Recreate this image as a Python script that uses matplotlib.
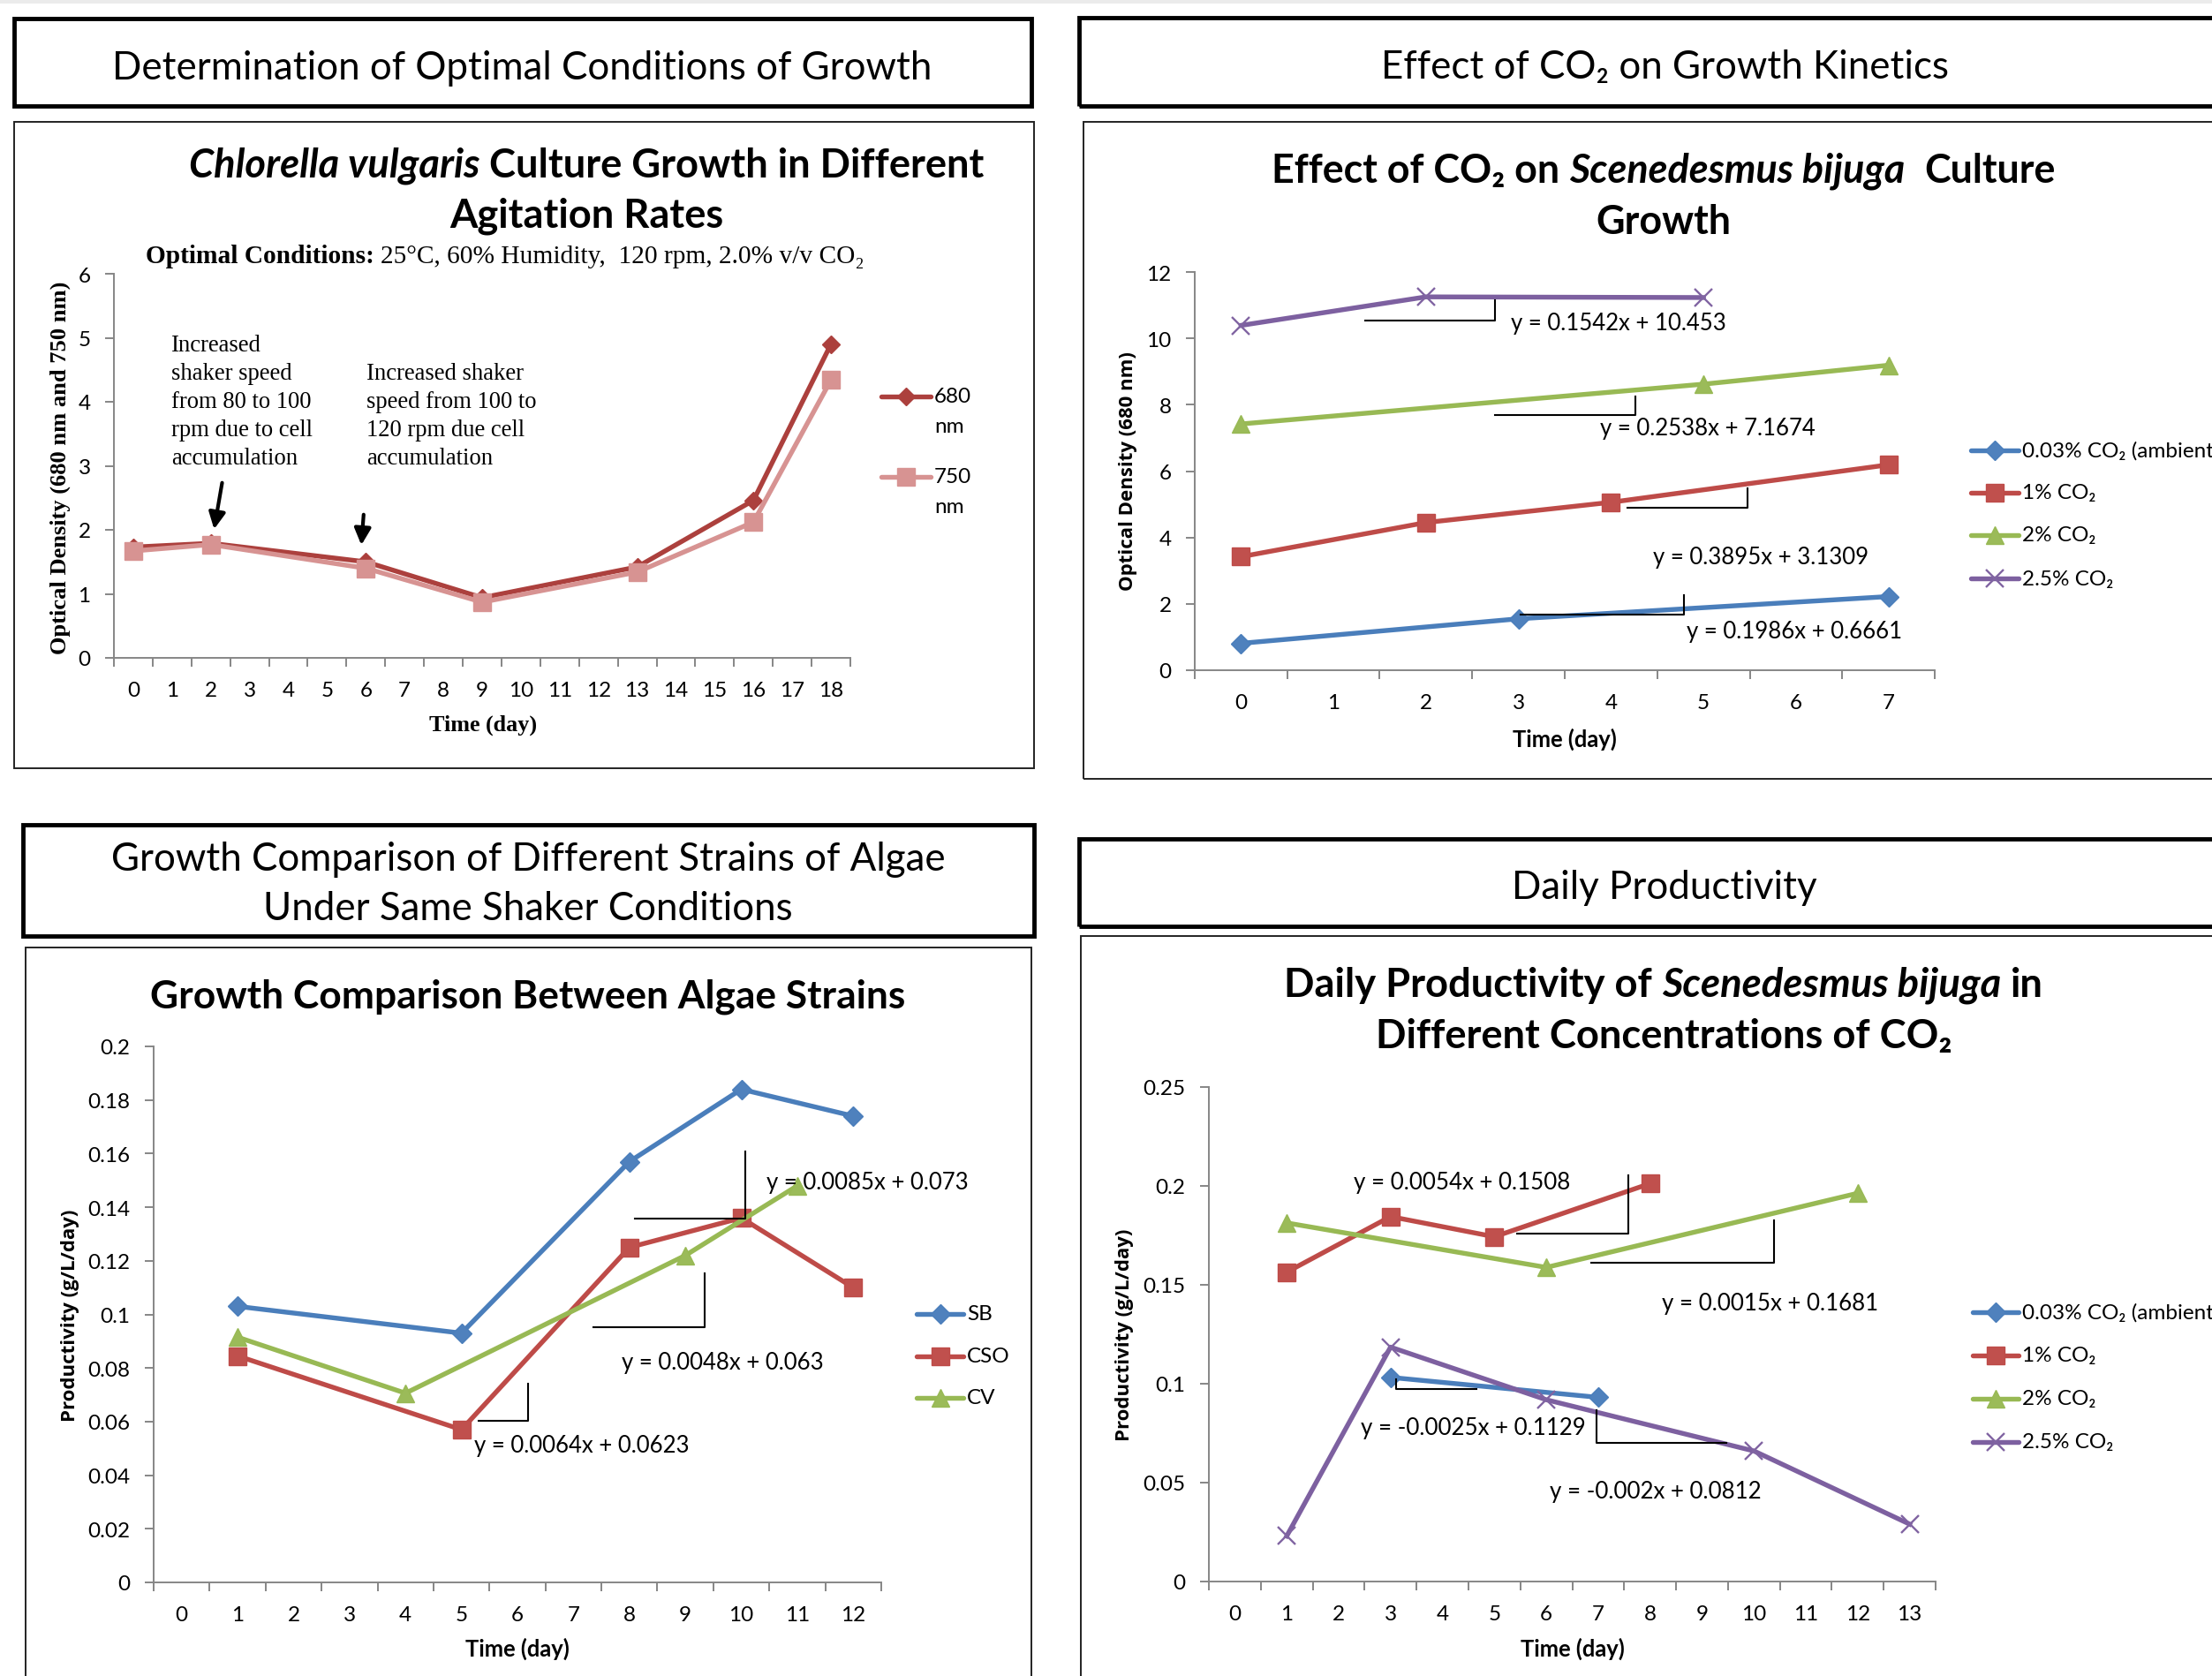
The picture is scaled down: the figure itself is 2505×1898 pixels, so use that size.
import matplotlib
matplotlib.use('Agg')
import matplotlib.pyplot as plt
from matplotlib.lines import Line2D
from matplotlib.patches import Rectangle, FancyArrowPatch
from matplotlib.ticker import FixedLocator

plt.rcParams['font.family'] = ['Lato', 'DejaVu Sans']

W, H = 2505, 1899

# ---------------- data ----------------
# Top-left: Chlorella vulgaris, agitation rates
tl_categories = ['0', '1', '2', '3', '4', '5', '6', '7', '8', '9', '10',
                 '11', '12', '13', '14', '15', '16', '17', '18']
tl_days = [0, 2, 6, 9, 13, 16, 18]
tl_od680 = [1.73, 1.79, 1.50, 0.94, 1.42, 2.46, 4.90]
tl_od750 = [1.67, 1.77, 1.40, 0.87, 1.34, 2.12, 4.34]
tl_yticks = [0, 1, 2, 3, 4, 5, 6]
tl_yticklabels = ['0', '1', '2', '3', '4', '5', '6']

# Top-right: effect of CO2 on S. bijuga growth
tr_categories = ['0', '1', '2', '3', '4', '5', '6', '7']
tr_amb_days = [0, 3, 7]
tr_amb = [0.81, 1.55, 2.22]
tr_1_days = [0, 2, 4, 7]
tr_1 = [3.42, 4.45, 5.06, 6.19]
tr_2_days = [0, 5, 7]
tr_2 = [7.42, 8.62, 9.19]
tr_25_days = [0, 2, 5]
tr_25 = [10.39, 11.25, 11.23]
tr_yticks = [0, 2, 4, 6, 8, 10, 12]
tr_yticklabels = ['0', '2', '4', '6', '8', '10', '12']
tr_equations = ['y = 0.1542x + 10.453', 'y = 0.2538x + 7.1674',
                'y = 0.3895x + 3.1309', 'y = 0.1986x + 0.6661']

# Bottom-left: growth comparison between strains
bl_categories = ['0', '1', '2', '3', '4', '5', '6', '7', '8', '9', '10', '11', '12']
bl_sb_days = [1, 5, 8, 10, 12]
bl_sb = [0.103, 0.093, 0.157, 0.184, 0.174]
bl_cso_days = [1, 5, 8, 10, 12]
bl_cso = [0.0845, 0.057, 0.125, 0.136, 0.110]
bl_cv_days = [1, 4, 9, 11]
bl_cv = [0.0915, 0.0706, 0.122, 0.148]
bl_yticks = [0, 0.02, 0.04, 0.06, 0.08, 0.1, 0.12, 0.14, 0.16, 0.18, 0.2]
bl_yticklabels = ['0', '0.02', '0.04', '0.06', '0.08', '0.1', '0.12', '0.14',
                  '0.16', '0.18', '0.2']
bl_equations = ['y = 0.0085x + 0.073', 'y = 0.0048x + 0.063', 'y = 0.0064x + 0.0623']

# Bottom-right: daily productivity
br_categories = ['0', '1', '2', '3', '4', '5', '6', '7', '8', '9', '10', '11', '12', '13']
br_amb_days = [3, 7]
br_amb = [0.1032, 0.0931]
br_1_days = [1, 3, 5, 8]
br_1 = [0.1564, 0.1845, 0.1743, 0.2012]
br_2_days = [1, 6, 12]
br_2 = [0.1813, 0.1588, 0.1963]
br_25_days = [1, 3, 6, 10, 13]
br_25 = [0.023, 0.1185, 0.0919, 0.066, 0.029]
br_yticks = [0, 0.05, 0.1, 0.15, 0.2, 0.25]
br_yticklabels = ['0', '0.05', '0.1', '0.15', '0.2', '0.25']
br_equations = ['y = 0.0054x + 0.1508', 'y = 0.0015x + 0.1681',
                'y = -0.0025x + 0.1129', 'y = -0.002x + 0.0812']

co2_labels = ['0.03% CO\u2082 (ambient)', '1% CO\u2082', '2% CO\u2082', '2.5% CO\u2082']
strain_labels = ['SB', 'CSO', 'CV']
od_labels = [('680', 'nm'), ('750', 'nm')]

# ---------------- styles ----------------
BLUE = dict(color='#4A7EBB', marker='D', mfc='#4F81BD', mec='#4A7EBB', ms=11)
RED = dict(color='#BE4B48', marker='s', mfc='#C0504D', mec='#BE4B48', ms=14)
GREEN = dict(color='#98B954', marker='^', mfc='#9BBB59', mec='#98B954', ms=15)
PURPLE = dict(color='#7D60A0', marker='x', mfc='#8064A2', mec='#8064A2', ms=15, mew=1.7)
C680 = dict(color='#AC403D', marker='D', mfc='#AC403D', mec='#AC403D', ms=10)
C750 = dict(color='#D79392', marker='s', mfc='#D79392', mec='#D79392', ms=14)
LW = 3.9

SANS = ['Lato', 'DejaVu Sans']
SERIF = ['Liberation Serif', 'DejaVu Serif']
WIDE = ['Open Sans', 'DejaVu Sans']

fig = plt.figure(figsize=(W / 100, H / 100), dpi=100)
fig.patch.set_facecolor('white')
R = fig.canvas.get_renderer()


def fx(x):
    return x / W


def fy(y):
    return 1 - y / H


def text_w(s, **kw):
    t = fig.text(0, 0, s, **kw)
    w = t.get_window_extent(R).width
    t.remove()
    return w


def seg_w(s, **kw):
    return text_w('|' + s + '|', **kw) - text_w('||', **kw)


def fit(s, target, **kw):
    return 100.0 * target / seg_w(s, fontsize=100, **kw)


def rich(segs, cx, cy, target=None, size=None):
    if target is not None:
        tot = sum(seg_w(t, fontsize=100, **k) for t, k in segs)
        size = 100.0 * target / tot
    widths = [seg_w(t, fontsize=size, **k) for t, k in segs]
    x = cx - sum(widths) / 2
    for (t, k), w in zip(segs, widths):
        lead = len(t) - len(t.lstrip())
        off = seg_w(' ' * lead, fontsize=size, **k) if lead else 0
        fig.text(fx(x + off), fy(cy), t.strip(), fontsize=size, ha='left',
                 va='center', **k)
        x += w
    return size


def ftext(x, y, s, **kw):
    return fig.text(fx(x), fy(y), s, **kw)


def fline(xs, ys, **kw):
    fig.add_artist(Line2D([fx(v) for v in xs], [fy(v) for v in ys],
                          transform=fig.transFigure, **kw))


def box(l, t, r, b, lw, color='black'):
    fig.add_artist(Rectangle((fx(l), fy(b)), (r - l) / W, (b - t) / H,
                             transform=fig.transFigure, fill=False, lw=lw,
                             ec=color, zorder=5))


def make_axes(left, right, top, bottom, cats, yticks, ylabels, ymax):
    n = len(cats)
    ax = fig.add_axes([fx(left), fy(bottom), (right - left) / W, (bottom - top) / H])
    ax.patch.set_alpha(0)
    ax.set_xlim(-0.5, n - 0.5)
    ax.set_ylim(0, ymax)
    for s in ['top', 'right']:
        ax.spines[s].set_visible(False)
    for s in ['left', 'bottom']:
        ax.spines[s].set_color('#868686')
        ax.spines[s].set_linewidth(1.4)
    ax.set_xticks(range(n))
    ax.set_xticklabels(cats)
    ax.xaxis.set_minor_locator(FixedLocator([i - 0.5 for i in range(n + 1)]))
    ax.tick_params(axis='x', which='major', length=0, pad=19, labelsize=17.5)
    ax.tick_params(axis='x', which='minor', length=7, width=1.4, color='#868686',
                   direction='out')
    ax.set_yticks(yticks)
    ax.set_yticklabels(ylabels)
    ax.tick_params(axis='y', length=7, width=1.4, color='#868686', pad=12,
                   labelsize=17.5)
    return ax


def legend_entry(x1, x2, y, style, label_lines, fs, dy=None):
    st = dict(style)
    ms = st.pop('marker'); mfc = st.pop('mfc'); mec = st.pop('mec')
    size = st.pop('ms'); mew = st.pop('mew', 1.0)
    fline([x1, x2], [y, y], color=st['color'], lw=LW, solid_capstyle='round')
    fig.add_artist(Line2D([fx((x1 + x2) / 2)], [fy(y)], transform=fig.transFigure,
                          marker=ms, mfc=mfc, mec=mec, ms=size, mew=mew, lw=0))
    for i, s in enumerate(label_lines):
        ftext(x2 + 4, y + (dy or 0) * i, s, fontsize=fs, ha='left', va='center',
              family=SANS)


def plot_series(ax, xs, ys, style):
    st = dict(style)
    ax.plot(xs, ys, color=st['color'], lw=LW, marker=st['marker'], mfc=st['mfc'],
            mec=st['mec'], ms=st['ms'], mew=st.get('mew', 1.0), clip_on=False,
            zorder=3)


# ---------------- background, headers, frames ----------------
fig.add_artist(Rectangle((0, fy(5)), 1, 5 / H, transform=fig.transFigure,
                         color='#EBEBEB', lw=0))

box(16, 22, 1168, 121, 3.5)
box(1222, 21, 2560, 121, 3.5)
box(26, 935, 1171, 1061, 3.5)
box(1222, 951, 2560, 1050, 3.5)

box(16, 139, 1171, 871, 1.4, '#222222')
box(1227, 139, 2560, 883, 1.4, '#222222')
box(29, 1074, 1168, 1960, 1.4, '#222222')
box(1224, 1061, 2560, 1960, 1.4, '#222222')

hs = fit('Determination of Optimal Conditions of Growth', 927, family=SANS)
ftext(591, 77, 'Determination of Optimal Conditions of Growth', fontsize=hs,
      ha='center', va='center', family=SANS)
ftext(1885, 77, 'Effect of CO\u2082 on Growth Kinetics', fontsize=hs,
      ha='center', va='center', family=SANS)
ftext(598, 974, 'Growth Comparison of Different Strains of Algae', fontsize=hs,
      ha='center', va='center', family=SANS)
ftext(598, 1030, 'Under Same Shaker Conditions', fontsize=hs,
      ha='center', va='center', family=SANS)
ftext(1885, 1005, 'Daily Productivity', fontsize=hs, ha='center', va='center',
      family=SANS)

B = dict(family=SANS, weight='bold')
BI = dict(family=SANS, weight='bold', style='italic')

# ---------------- Top-left chart ----------------
ax1 = make_axes(129, 963, 311, 746, tl_categories, tl_yticks, tl_yticklabels, 6)
plot_series(ax1, tl_days, tl_od680, C680)
plot_series(ax1, tl_days, tl_od750, C750)

ts = rich([('Chlorella vulgaris', BI), (' Culture Growth in Different', B)],
          664, 188, target=900)
ftext(664, 245, 'Agitation Rates', fontsize=ts, ha='center', va='center', **B)
rich([('Optimal Conditions:', dict(family=SERIF, weight='bold')),
      (' 25\u00b0C, 60% Humidity,  120 rpm, 2.0% v/v CO\u2082', dict(family=SERIF))],
     572, 291, target=812)
yl = fit('Optical Density (680 nm and 750 nm)', 422, family=SERIF, weight='bold')
ftext(68, 530, 'Optical Density (680 nm and 750 nm)', fontsize=yl, rotation=90,
      ha='center', va='center', family=SERIF, weight='bold')
xl = fit('Time (day)', 122, family=SERIF, weight='bold')
ftext(547, 821, 'Time (day)', fontsize=xl, ha='center', va='center',
      family=SERIF, weight='bold')

note_fs = fit('shaker speed', 137, family=SERIF)
for i, s in enumerate(['Increased', 'shaker speed', 'from 80 to 100',
                       'rpm due to cell', 'accumulation']):
    ftext(194, 391 + 32 * i, s, fontsize=note_fs, ha='left', va='center', family=SERIF)
for i, s in enumerate(['Increased shaker', 'speed from 100 to',
                       '120 rpm due cell', 'accumulation']):
    ftext(415, 423 + 32 * i, s, fontsize=note_fs, ha='left', va='center', family=SERIF)
fig.add_artist(FancyArrowPatch(
    (fx(252), fy(545)), (fx(242), fy(603)), transform=fig.transFigure,
    arrowstyle='-|>', mutation_scale=28, lw=3, color='black'))
fig.add_artist(FancyArrowPatch(
    (fx(412), fy(581)), (fx(409), fy(621)), transform=fig.transFigure,
    arrowstyle='-|>', mutation_scale=28, lw=3, color='black'))

legend_entry(998, 1054, 450, C680, od_labels[0], 17.5, dy=34)
legend_entry(998, 1054, 541, C750, od_labels[1], 17.5, dy=34)

# ---------------- Top-right chart ----------------
ax2 = make_axes(1353, 2191, 309, 760, tr_categories, tr_yticks, tr_yticklabels, 12)
plot_series(ax2, tr_amb_days, tr_amb, BLUE)
plot_series(ax2, tr_1_days, tr_1, RED)
plot_series(ax2, tr_2_days, tr_2, GREEN)
plot_series(ax2, tr_25_days, tr_25, PURPLE)

ts2 = rich([('Effect of CO\u2082 on ', B), ('Scenedesmus bijuga', BI),
            ('  Culture', B)], 1884, 194, target=888)
ftext(1884, 252, 'Growth', fontsize=ts2, ha='center', va='center', **B)
yl2 = fit('Optical Density (680 nm)', 271, family=WIDE, weight='bold')
ftext(1277, 534, 'Optical Density (680 nm)', fontsize=yl2, rotation=90,
      ha='center', va='center', family=WIDE, weight='bold')
xl2 = fit('Time (day)', 118, family=SANS, weight='bold')
ftext(1772, 837, 'Time (day)', fontsize=xl2, ha='center', va='center', **B)

eq2 = fit(tr_equations[0], 244, family=SANS)
eq_pos2 = [(1711, 367), (1812, 486), (1872, 632), (1910, 716)]
for s, (x, y) in zip(tr_equations, eq_pos2):
    ftext(x, y, s, fontsize=eq2, ha='left', va='center', family=SANS)
fline([1546, 1693, 1693], [364, 364, 341], color='black', lw=1.5)
fline([1693, 1852, 1852], [471, 471, 450], color='black', lw=1.5)
fline([1843, 1979, 1979], [576, 576, 554], color='black', lw=1.5)
fline([1722, 1907, 1907], [697, 697, 675], color='black', lw=1.5)

for lab, st, y in zip(co2_labels, [BLUE, RED, GREEN, PURPLE], [511, 559, 607, 656]):
    legend_entry(2232, 2286, y, st, [lab], 17.5)

# ---------------- Bottom-left chart ----------------
ax3 = make_axes(174, 998, 1186, 1793, bl_categories, bl_yticks, bl_yticklabels, 0.2)
plot_series(ax3, bl_sb_days, bl_sb, BLUE)
plot_series(ax3, bl_cso_days, bl_cso, RED)
plot_series(ax3, bl_cv_days, bl_cv, GREEN)

rich([('Growth Comparison Between Algae Strains', B)], 598, 1129, target=855)
yl3 = fit('Productivity (g/L/day)', 241, family=WIDE, weight='bold')
ftext(79, 1490, 'Productivity (g/L/day)', fontsize=yl3, rotation=90,
      ha='center', va='center', family=WIDE, weight='bold')
ftext(586, 1867, 'Time (day)', fontsize=xl2, ha='center', va='center', **B)

eq3 = fit(bl_equations[0], 229, family=SANS)
eq_pos3 = [(868, 1339), (704, 1544), (537, 1638)]
for s, (x, y) in zip(bl_equations, eq_pos3):
    ftext(x, y, s, fontsize=eq3, ha='left', va='center', family=SANS)
fline([719, 844, 844], [1381, 1381, 1305], color='black', lw=1.5)
fline([672, 798, 798], [1504, 1504, 1443], color='black', lw=1.5)
fline([542, 598, 598], [1610, 1610, 1568], color='black', lw=1.5)

for lab, st, y in zip(strain_labels, [BLUE, RED, GREEN], [1489, 1537, 1584]):
    legend_entry(1038, 1091, y, st, [lab], 17.5)

# ---------------- Bottom-right chart ----------------
ax4 = make_axes(1369, 2192, 1232, 1792, br_categories, br_yticks, br_yticklabels, 0.25)
plot_series(ax4, br_amb_days, br_amb, BLUE)
plot_series(ax4, br_1_days, br_1, RED)
plot_series(ax4, br_2_days, br_2, GREEN)
plot_series(ax4, br_25_days, br_25, PURPLE)

ts4 = rich([('Daily Productivity of ', B), ('Scenedesmus bijuga', BI), (' in', B)],
           1884, 1116, target=860)
ftext(1884, 1174, 'Different Concentrations of CO\u2082', fontsize=ts4,
      ha='center', va='center', **B)
ftext(1273, 1512, 'Productivity (g/L/day)', fontsize=yl3, rotation=90,
      ha='center', va='center', family=WIDE, weight='bold')
ftext(1781, 1867, 'Time (day)', fontsize=xl2, ha='center', va='center', **B)

eq4 = fit(br_equations[0], 245, family=SANS)
eq_pos4 = [(1533, 1340), (1882, 1477), (1541, 1618), (1755, 1689)]
for s, (x, y) in zip(br_equations, eq_pos4):
    ftext(x, y, s, fontsize=eq4, ha='left', va='center', family=SANS)
fline([1718, 1844, 1844], [1398, 1398, 1332], color='black', lw=1.5)
fline([1802, 2009, 2009], [1431, 1431, 1383], color='black', lw=1.5)
fline([1581, 1581, 1672], [1563, 1574, 1574], color='black', lw=1.5)
fline([1808, 1808, 1955], [1598, 1635, 1635], color='black', lw=1.5)

for lab, st, y in zip(co2_labels, [BLUE, RED, GREEN, PURPLE], [1487, 1536, 1585, 1634]):
    legend_entry(2234, 2286, y, st, [lab], 17.5)

fig.savefig('out.png', dpi=100)
